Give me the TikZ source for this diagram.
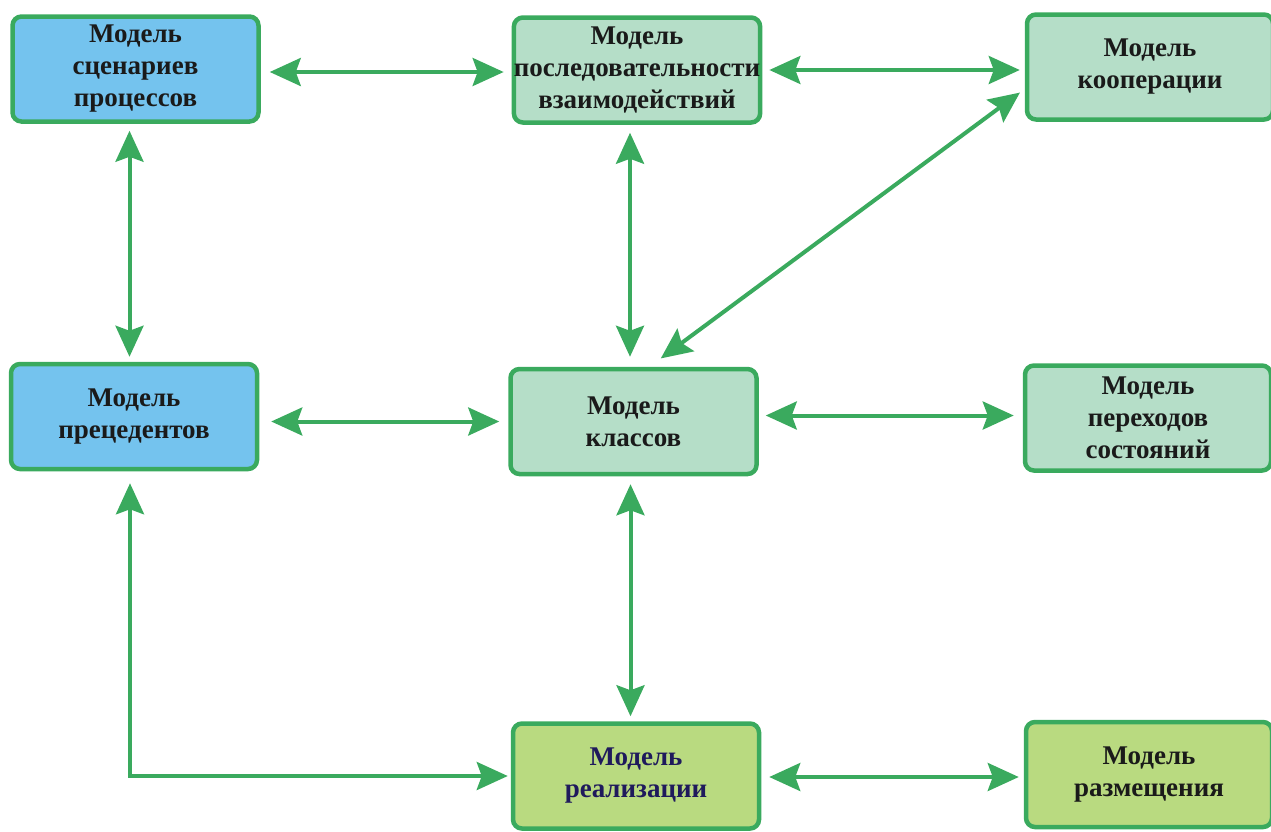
\documentclass[tikz,border=0pt]{standalone}
\usepackage{fontspec}
\setmainfont{Liberation Serif}
\usetikzlibrary{arrows.meta}
\definecolor{edgegreen}{HTML}{3AAA5E}
\definecolor{fillblue}{HTML}{74C3EE}
\definecolor{fillmint}{HTML}{B5DEC8}
\definecolor{filllime}{HTML}{B9DA80}
\definecolor{textdark}{HTML}{1A1A1A}
\definecolor{textnavy}{HTML}{1F1A5C}
\tikzset{
  x=1pt, y=-1pt,
  model/.style={draw=edgegreen, line width=4.5pt, rounded corners=9pt,
    minimum width=246pt, minimum height=105pt, inner sep=0pt,
    align=center, text=textdark,
    font=\fontsize{27pt}{32pt}\selectfont\bfseries},
  usecase/.style={model, fill=fillblue},
  logical/.style={model, fill=fillmint},
  physical/.style={model, fill=filllime},
  link/.style={draw=edgegreen, line width=4pt,
    {Stealth[length=31pt,width=28pt,inset=5pt]}-{Stealth[length=31pt,width=28pt,inset=5pt]}},
}
\begin{document}
\begin{tikzpicture}
\useasboundingbox (0,0) rectangle (1271,831);
% boxes
\node[usecase]  (scen) at (135.5,69)  {Модель\\сценариев\\процессов};
\node[logical]  (seq)  at (637,70)    {Модель\\последовательности\\взаимодействий};
\node[logical]  (coop) at (1150,67)   {Модель\\кооперации};
\node[usecase]  (uc)   at (134,416.5) {Модель\\прецедентов};
\node[logical]  (cls)  at (633.5,421.5) {Модель\\классов};
\node[logical]  (st)   at (1148,418)  {Модель\\переходов\\состояний};
\node[physical, text=textnavy] (impl) at (636,776) {Модель\\реализации};
\node[physical] (depl) at (1149,774.5) {Модель\\размещения};
% connectors
\draw[link, shorten <=9pt, shorten >=8pt] ([yshift=-3]scen.east) -- ([yshift=-3]scen.east -| seq.west);
\draw[link, shorten <=7pt, shorten >=5pt] (seq.east) -- (seq.east -| coop.west);
\draw[link, shorten <=7pt, shorten >=5pt] ([xshift=-6]scen.south) -- ([xshift=-6]scen.south |- uc.north);
\draw[link, shorten <=8pt, shorten >=10pt] ([xshift=-7]seq.south) -- ([xshift=-7]seq.south |- cls.north);
\draw[link, shorten <=6pt, shorten >=14pt] ([yshift=-22]coop.west) -- ([xshift=16]cls.north);
\draw[link, shorten <=12pt, shorten >=9pt] (uc.east |- cls.west) -- (cls.west);
\draw[link, shorten <=7pt, shorten >=9pt] ([yshift=6]cls.east) -- ([yshift=6]cls.east -| st.west);
\draw[link, shorten <=8pt, shorten >=5pt] ([xshift=-3]cls.south) -- ([xshift=-3]cls.south |- impl.north);
\draw[link, shorten <=12pt, shorten >=3pt] ([xshift=-4]uc.south) |- (impl.west);
\draw[link, shorten <=8pt, shorten >=5pt] ([yshift=-1]impl.east) -- ([yshift=-1]impl.east -| depl.west);
\end{tikzpicture}
\end{document}
